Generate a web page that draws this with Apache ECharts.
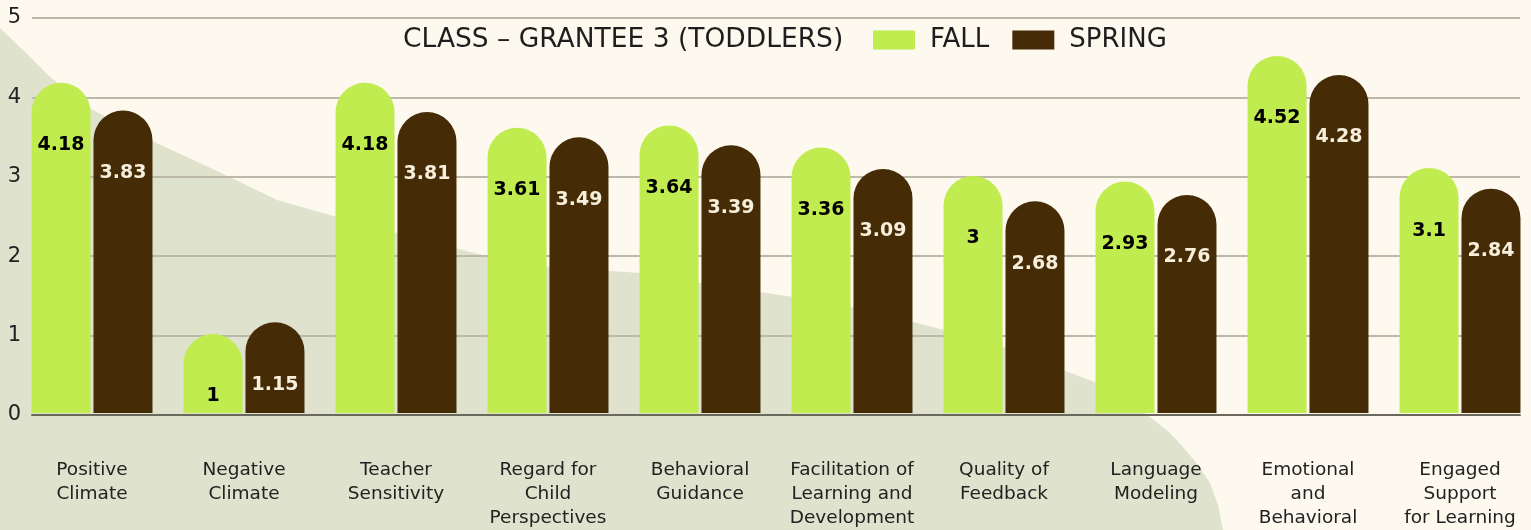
<!DOCTYPE html>
<html>
<head>
<meta charset="utf-8">
<script src="https://cdn.jsdelivr.net/npm/echarts@6/dist/echarts.min.js"></script>
<style>
html,body{margin:0;padding:0;background:#fdf9ee;overflow:hidden;}
#chart{width:1545px;height:530px;}
</style>
</head>
<body>
<div id="chart"></div>
<script>
const categories = [
  "Positive\nClimate",
  "Negative\nClimate",
  "Teacher\nSensitivity",
  "Regard for\nChild\nPerspectives",
  "Behavioral\nGuidance",
  "Facilitation of\nLearning and\nDevelopment",
  "Quality of\nFeedback",
  "Language\nModeling",
  "Emotional\nand\nBehavioral",
  "Engaged\nSupport\nfor Learning"
];
const fallValues = [4.18, 1, 4.18, 3.61, 3.64, 3.36, 3, 2.93, 4.52, 3.1];
const springValues = [3.83, 1.15, 3.81, 3.49, 3.39, 3.09, 2.68, 2.76, 4.28, 2.84];
const seriesNames = ["FALL", "SPRING"];
const titleText = "CLASS – GRANTEE 3 (TODDLERS)";
const yTicks = [0, 1, 2, 3, 4, 5];

const FONT = "'DejaVu Sans', sans-serif";
const chart = echarts.init(document.getElementById('chart'));

const bgShape = [[0,28],[25,52],[50,77],[93,110],[150,140],[200,163],[240,182],[277,200],[337,217],[397,233],[490,257],[550,267],[640,273],[700,283],[793,297],[850,307],[913,322],[960,334],[1003,347],[1063,370],[1097,383],[1125,399],[1150,417],[1170,433],[1183,447],[1198,465],[1210,483],[1218,505],[1223,530],[0,530]];

const option = {
  backgroundColor: '#fdf9ee',
  animation: false,
  graphic: [{
    type: 'polygon',
    z: -100,
    silent: true,
    shape: { points: bgShape },
    style: { fill: '#dfe2cc' }
  }],
  title: {
    text: titleText,
    left: 398,
    top: 22,
    textStyle: { fontFamily: FONT, fontSize: 26.5, fontWeight: 'normal', color: '#1e1e1e' }
  },
  legend: {
    data: seriesNames,
    left: 868,
    top: 22,
    itemWidth: 42,
    itemHeight: 19,
    itemGap: 23,
    icon: 'rect',
    textStyle: { fontFamily: FONT, fontSize: 26, color: '#1e1e1e', padding: [0,0,0,10] }
  },
  grid: [
    { left: 16, width: 1520, top: 18, bottom: 115 },
    { left: 32, width: 1488, top: 18, bottom: 115 }
  ],
  xAxis: [
    {
      type: 'category', gridIndex: 0, data: categories,
      axisLine: { show: false }, axisTick: { show: false },
      axisLabel: {
        margin: 45, interval: 0, verticalAlign: 'top',
        fontFamily: FONT, fontSize: 18.5, lineHeight: 24, color: '#222'
      }
    },
    {
      type: 'value', gridIndex: 1, min: 0, max: 1,
      axisLine: { show: true, lineStyle: { color: '#6a685c', width: 2 } },
      axisTick: { show: false }, axisLabel: { show: false }, splitLine: { show: false }
    }
  ],
  yAxis: [
    {
      type: 'value', gridIndex: 0, min: 0, max: 5, interval: 1,
      axisLine: { show: false }, axisTick: { show: false },
      axisLabel: { show: false }, splitLine: { show: false }
    },
    {
      type: 'value', gridIndex: 1, min: yTicks[0], max: yTicks[yTicks.length-1], interval: 1,
      axisLine: { show: false }, axisTick: { show: false },
      axisLabel: { margin: 11, fontFamily: FONT, fontSize: 21, color: '#222' },
      splitLine: { show: true, lineStyle: { color: '#bcb8aa', width: 2 } }
    }
  ],
  series: [
    {
      name: seriesNames[0], type: 'bar', xAxisIndex: 0, yAxisIndex: 0,
      data: fallValues, barWidth: 59, barGap: '5%',
      itemStyle: { color: '#c1ec4f', borderRadius: [29.5, 29.5, 0, 0] },
      label: {
        show: true, position: 'insideTop', distance: 53,
        fontFamily: FONT, fontWeight: 'bold', fontSize: 19, color: '#000'
      }
    },
    {
      name: seriesNames[1], type: 'bar', xAxisIndex: 0, yAxisIndex: 0,
      data: springValues, barWidth: 59, barGap: '5%',
      itemStyle: { color: '#452c07', borderRadius: [29.5, 29.5, 0, 0] },
      label: {
        show: true, position: 'insideTop', distance: 53,
        fontFamily: FONT, fontWeight: 'bold', fontSize: 19, color: '#f7eedb'
      }
    }
  ]
};
chart.setOption(option);
</script>
</body>
</html>
